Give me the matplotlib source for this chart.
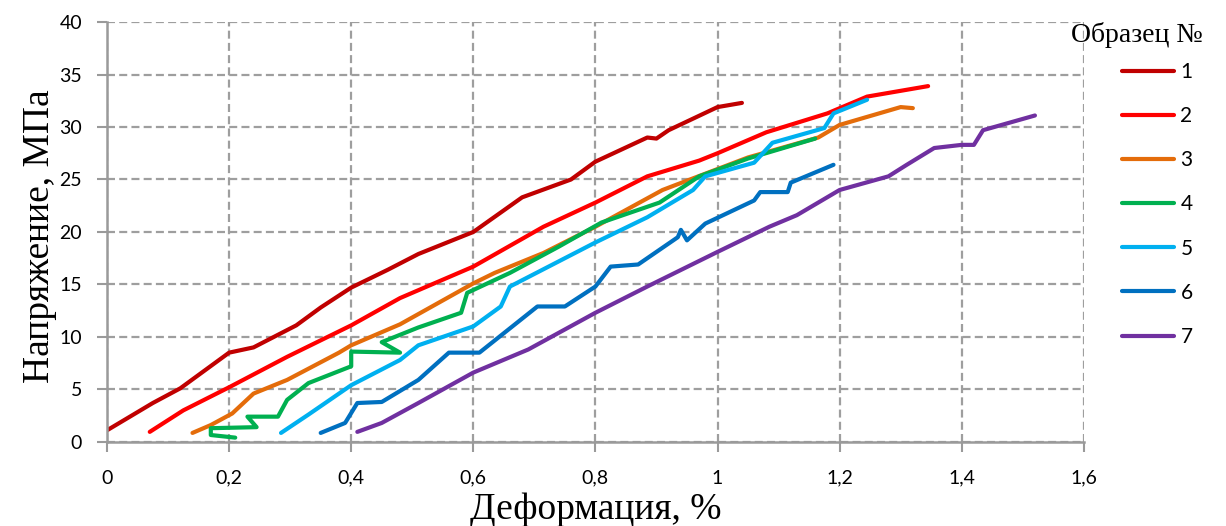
#!/usr/bin/env python3
import matplotlib
matplotlib.use('Agg')
import matplotlib.pyplot as plt
from matplotlib.ticker import MultipleLocator, FuncFormatter

# strain (%) and stress (MPa) for each sample
x1 = [0.0, 0.075, 0.12, 0.20, 0.24, 0.31, 0.35, 0.40, 0.46, 0.51, 0.60, 0.68, 0.76, 0.80, 0.885, 0.90, 0.92, 1.0, 1.04]
y1 = [1.1, 3.7, 5.1, 8.5, 9.0, 11.1, 12.8, 14.7, 16.4, 17.9, 20.0, 23.3, 25.0, 26.7, 29.0, 28.9, 29.7, 31.9, 32.3]

x2 = [0.07, 0.125, 0.20, 0.295, 0.40, 0.48, 0.60, 0.715, 0.80, 0.885, 0.97, 1.0, 1.08, 1.18, 1.245, 1.345]
y2 = [0.95, 3.0, 5.2, 8.1, 11.1, 13.7, 16.7, 20.5, 22.8, 25.3, 26.8, 27.5, 29.5, 31.3, 32.9, 33.9]

x3 = [0.14, 0.17, 0.205, 0.24, 0.295, 0.38, 0.40, 0.48, 0.60, 0.635, 0.715, 0.80, 0.91, 0.955, 1.05, 1.165, 1.20, 1.30, 1.32]
y3 = [0.85, 1.6, 2.7, 4.6, 5.9, 8.5, 9.2, 11.2, 15.1, 16.1, 18.0, 20.5, 24.0, 25.0, 27.1, 29.0, 30.2, 31.9, 31.8]

x4 = [0.21, 0.17, 0.17, 0.245, 0.23, 0.28, 0.295, 0.33, 0.40, 0.40, 0.48, 0.45, 0.51, 0.58, 0.59, 0.66, 0.74, 0.81, 0.905, 0.97, 1.05, 1.16]
y4 = [0.4, 0.65, 1.3, 1.4, 2.4, 2.4, 4.0, 5.6, 7.2, 8.6, 8.5, 9.5, 10.9, 12.3, 14.2, 16.1, 18.6, 20.9, 22.8, 25.3, 27.0, 28.9]

x5 = [0.285, 0.33, 0.40, 0.48, 0.51, 0.60, 0.645, 0.66, 0.80, 0.885, 0.96, 0.98, 1.06, 1.09, 1.175, 1.19, 1.245]
y5 = [0.85, 2.6, 5.4, 7.8, 9.2, 11.0, 12.9, 14.8, 19.0, 21.4, 24.0, 25.3, 26.6, 28.5, 29.9, 31.3, 32.6]

x6 = [0.35, 0.39, 0.41, 0.45, 0.51, 0.56, 0.61, 0.705, 0.75, 0.80, 0.825, 0.87, 0.935, 0.94, 0.95, 0.98, 1.06, 1.07, 1.115, 1.12, 1.19]
y6 = [0.85, 1.8, 3.7, 3.8, 5.9, 8.5, 8.5, 12.9, 12.9, 14.8, 16.7, 16.9, 19.5, 20.2, 19.2, 20.8, 23.0, 23.8, 23.8, 24.7, 26.4]

x7 = [0.41, 0.45, 0.51, 0.60, 0.69, 0.80, 0.885, 1.0, 1.085, 1.13, 1.20, 1.28, 1.31, 1.355, 1.40, 1.42, 1.435, 1.52]
y7 = [0.95, 1.8, 3.7, 6.6, 8.8, 12.3, 14.8, 18.1, 20.5, 21.6, 24.0, 25.3, 26.4, 28.0, 28.3, 28.3, 29.7, 31.1]

labels = ['1', '2', '3', '4', '5', '6', '7']
colors = ['#C00000', '#FF0000', '#E46C0A', '#00B050', '#00B0F0', '#0070C0', '#7030A0']

series = [(x1, y1), (x2, y2), (x3, y3), (x4, y4), (x5, y5), (x6, y6), (x7, y7)]

fig = plt.figure(figsize=(12.26, 5.26), dpi=100)
ax = fig.add_axes([0.0873, 0.16, 0.7967, 0.798])

for (xs, ys), lab, col in zip(series, labels, colors):
    ax.plot(xs, ys, color=col, lw=3.0, label=lab, solid_joinstyle='round', solid_capstyle='round')

ax.set_xlim(0, 1.6)
ax.set_ylim(0, 40)
ax.xaxis.set_major_locator(MultipleLocator(0.2))
ax.yaxis.set_major_locator(MultipleLocator(5))
ax.xaxis.set_major_formatter(FuncFormatter(lambda v, p: ('%g' % round(v, 1)).replace('.', ',')))

grid_col = '#9E9E9E'
ax.grid(True, color=grid_col, ls=(0, (3.6, 1.9)), lw=1.6)
ax.set_axisbelow(True)
for s in ['top', 'right']:
    ax.spines[s].set_visible(False)
for s in ['left', 'bottom']:
    ax.spines[s].set_color('#9A9A9A')
    ax.spines[s].set_linewidth(1.8)
ax.tick_params(direction='out', length=7, width=1.5, color='#9A9A9A', labelsize=14)
ax.tick_params(axis='x', pad=13)
ax.tick_params(axis='y', pad=11)
for t in ax.get_xticklabels() + ax.get_yticklabels():
    t.set_family('Lato')

ax.set_xlabel('Деформация, %', family='Liberation Serif', fontsize=27, va='center')
ax.xaxis.set_label_coords(0.5, -0.162)
ax.set_ylabel('Напряжение, МПа', family='Liberation Serif', fontsize=27, va='center')
ax.yaxis.set_label_coords(-0.069, 0.49)

fig.text(0.8735, 0.9335, 'Образец №', family='Liberation Serif', fontsize=20, va='center')
leg = ax.legend(loc='upper left', bbox_to_anchor=(0.9, 0.918), bbox_transform=fig.transFigure,
                frameon=False, handlelength=2.5, handletextpad=0.3, labelspacing=1.16,
                prop={'family': 'Lato', 'size': 15})

fig.savefig('out.png', dpi=100)
